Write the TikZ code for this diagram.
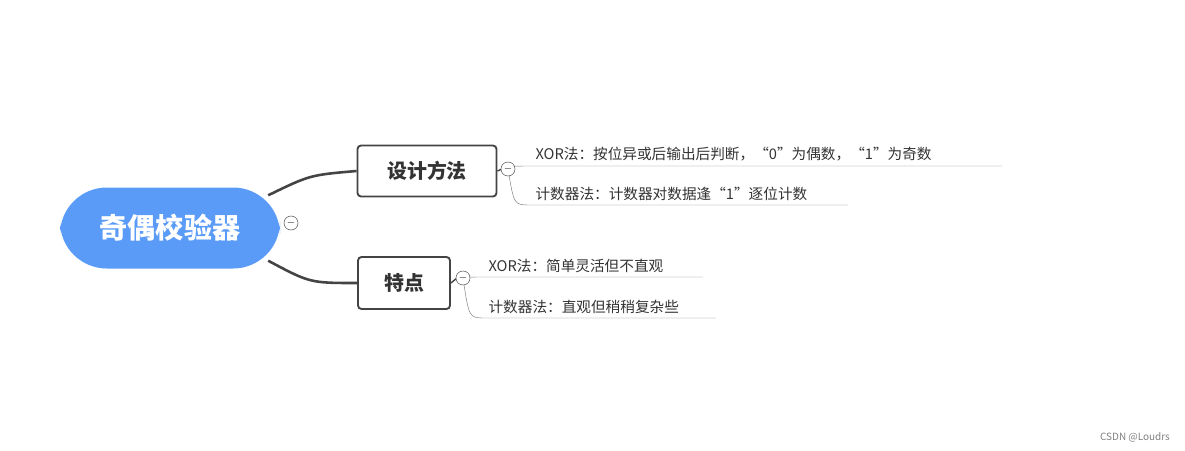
\documentclass[tikz,border=0pt]{standalone}
\usepackage{fontspec}
\setmainfont{Noto Sans CJK SC}
\usetikzlibrary{positioning}
\definecolor{rootblue}{HTML}{5B9BF8}
\definecolor{edge}{HTML}{444444}
\definecolor{leaftext}{HTML}{333333}
\tikzset{
  topic/.style={draw=edge, line width=1.6pt, rounded corners=3pt, fill=white, font=\fontsize{17}{20}\selectfont\bfseries, text=leaftext},
  leaf/.style={anchor=south west, inner sep=2pt, font=\fontsize{12.5}{15}\selectfont, text=leaftext},
  fold/.style={draw=edge, fill=white, circle, inner sep=0pt, minimum size=12pt, font=\fontsize{9}{9}\selectfont},
}
\begin{document}
\begin{tikzpicture}[x=0.03cm, y=-0.03cm]
\useasboundingbox (0,0) rectangle (1185,450);
\node [fill=rootblue, rounded corners=40, minimum width=220*0.03cm, minimum height=81*0.03cm, text=white, font=\fontsize{24}{28}\selectfont\bfseries] (root) at (170,228) {奇偶校验器};
\node [fold] (rootfold) at (291,223) {$-$};
\node [topic, minimum width=139*0.03cm, minimum height=51*0.03cm] (design) at (427,171) {设计方法};
\node [topic, minimum width=92*0.03cm, minimum height=52*0.03cm] (feature) at (404,283) {特点};

\draw [edge, line width=2.2pt] (root.north east) ++(-12,8) .. controls (310,175) .. (design.west);
\draw [edge, line width=2.2pt] (root.south east) ++(-12,-8) .. controls (310,283) .. (feature.west);

\coordinate (d1) at (1002,166);
\coordinate (d2) at (848,205);
\coordinate (f1) at (703,277);
\coordinate (f2) at (716,318);
\draw [edge!70] (508,169) .. controls (512,166) .. (530,166) -- (d1);
\draw [edge!70] (508,169) .. controls (514,205) .. (530,205) -- (d2);
\draw [edge!70] (463,278) .. controls (467,277) .. (485,277) -- (f1);
\draw [edge!70] (463,278) .. controls (469,318) .. (485,318) -- (f2);
\draw [edge, line width=1.2pt] (design.east) -- (502,169);
\draw [edge, line width=1.2pt] (feature.east) -- (457,278);
\node [fold] (designfold) at (508,169) {$-$};
\node [fold] (featurefold) at (463,278) {$-$};

\node [leaf] (xor1) at (533,164) {XOR法：按位异或后输出后判断，“0”为偶数，“1”为奇数};
\node [leaf] (cnt1) at (533,203) {计数器法：计数器对数据逢“1”逐位计数};
\node [leaf] (xor2) at (486,275) {XOR法：简单灵活但不直观};
\node [leaf] (cnt2) at (486,316) {计数器法：直观但稍稍复杂些};

\node [text=gray, font=\fontsize{8.5}{10}\selectfont] (mark) at (1135,437) {CSDN @Loudrs};
\end{tikzpicture}
\end{document}
